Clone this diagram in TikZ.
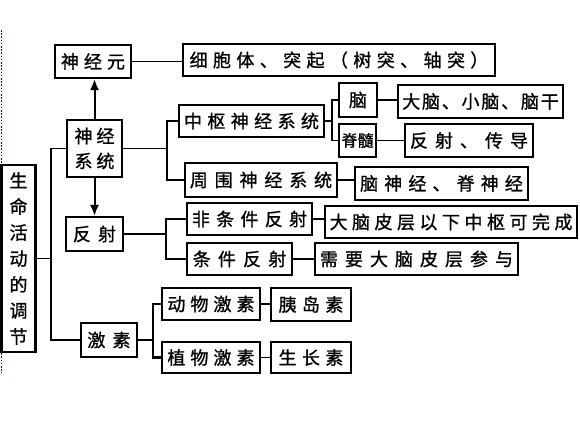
\documentclass[tikz,border=0pt]{standalone}
\usepackage{fontspec}
\newfontfamily\cjk[FakeBold=1]{Noto Sans CJK SC}
\usetikzlibrary{arrows.meta}
\newcommand\lsp[2]{{\addfontfeature{LetterSpace=#1}#2}}
\begin{document}
\begin{tikzpicture}[x=1pt,y=-1pt,
  box/.style={draw, line width=2.1pt, fill=white, inner sep=0pt, align=center,
    font=\cjk\fontsize{18}{22}\selectfont},
  conn/.style={line width=1.6pt},
  thk/.style={line width=2.5pt},
  arr/.style={line width=2pt,-{Latex[length=11pt,width=9pt]}}]
\useasboundingbox[fill=white] (0,0) rectangle (580,437);
% blue dotted edge
\draw[blue, line width=1.6pt, dash pattern=on 1.6pt off 1.6pt] (1.5,30) -- (1.5,373);
% bus coordinates
\coordinate (b1) at (51,0);
\coordinate (b2) at (167,0);
\coordinate (b3) at (332,0);
\coordinate (b4) at (166,0);
\coordinate (b5) at (153,0);
% nodes
\node[box, minimum width=34, minimum height=187, font=\cjk\fontsize{18}{26}\selectfont] (root) at (18.5,258.5) {生\\命\\活\\动\\的\\调\\节};
\node[box, minimum width=76, minimum height=33] (sjy) at (93,61.5) {\lsp{28}{神经元}};
\node[box, minimum width=312, minimum height=32] (xbt) at (339,60) {\lsp{30}{细胞体、突起（树突、轴突）}};
\node[box, minimum width=55, minimum height=57, font=\cjk\fontsize{18}{25}\selectfont] (sjxt) at (94.5,148.5) {\lsp{22}{神经}\\\lsp{22}{系统}};
\node[box, minimum width=145, minimum height=32] (zs) at (251.5,121) {\lsp{30}{中枢神经系统}};
\node[box, minimum width=38, minimum height=34] (nao) at (358,100) {脑};
\node[box, minimum width=165, minimum height=33] (dn) at (480.5,101.5) {\lsp{10}{大脑、小脑、脑干}};
\node[box, minimum width=37, minimum height=33, font=\cjk\fontsize{16}{20}\selectfont] (jsu) at (357.5,140.5) {脊髓};
\node[box, minimum width=128, minimum height=33] (fscd) at (469,140.5) {\lsp{39}{反射、传导}};
\node[box, minimum width=152, minimum height=34] (zw) at (261,180) {\lsp{38}{周围神经系统}};
\node[box, minimum width=173, minimum height=33] (nsj) at (441.5,183.5) {\lsp{34}{脑神经、脊神经}};
\node[box, minimum width=57, minimum height=34] (fs) at (94.5,234) {\lsp{40}{反射}};
\node[box, minimum width=125, minimum height=32] (ftj) at (249.5,219) {\lsp{35}{非条件反射}};
\node[box, minimum width=252, minimum height=32] (dnpc) at (451,222) {\lsp{25}{大脑皮层以下中枢可完成}};
\node[box, minimum width=105, minimum height=32] (tj) at (239.5,259) {\lsp{40}{条件反射}};
\node[box, minimum width=203, minimum height=32] (xy) at (416.5,259) {\lsp{39}{需要大脑皮层参与}};
\node[box, minimum width=56, minimum height=34] (jsu2) at (109,340) {\lsp{40}{激素}};
\node[box, minimum width=98, minimum height=32] (dw) at (211,304) {\lsp{28}{动物激素}};
\node[box, minimum width=80, minimum height=33] (yds) at (311,304.5) {\lsp{30}{胰岛素}};
\node[box, minimum width=98, minimum height=31] (zwj) at (211,357.5) {\lsp{28}{植物激素}};
\node[box, minimum width=80, minimum height=31] (szs) at (311,357.5) {\lsp{30}{生长素}};
% connectors
\draw[conn] (root.east) -- (root.east -| b1);
\draw[conn] (sjxt.west) -| (b1 |- jsu2.west) -- (jsu2.west);
\draw[conn] (sjy.east) -- (sjy.east -| xbt.west);
\draw[arr] (sjxt.north) -- (sjxt.north |- sjy.south);
\draw[arr] (sjxt.south) -- (sjxt.south |- fs.north);
\draw[conn] (sjxt.east) -- (sjxt.east -| b2);
\draw[conn] (zs.west) -| (b2 |- zw.west) -- (zw.west);
\draw[conn] (zs.east) -- (zs.east -| b3);
\draw[conn] (nao.west) -| (b3 |- jsu.west) -- (jsu.west);
\draw[conn] (nao.east) -- (nao.east -| dn.west);
\draw[conn] (jsu.east) -- (jsu.east -| fscd.west);
\draw[conn] (zw.east) -- (zw.east -| nsj.west);
\draw[thk] (fs.east) -- (fs.east -| b4);
\draw[thk] (ftj.west) -| (b4 |- tj.west) -- (tj.west);
\draw[conn] (ftj.east) -- (ftj.east -| dnpc.west);
\draw[conn] (tj.east) -- (tj.east -| xy.west);
\draw[conn] (jsu2.east) -- (jsu2.east -| b5);
\draw[thk] (dw.west) -| (b5 |- zwj.west) -- (zwj.west);
\draw[thk] (dw.east) -- (dw.east -| yds.west);
\draw[conn] (zwj.east) -- (zwj.east -| szs.west);
\end{tikzpicture}
\end{document}
